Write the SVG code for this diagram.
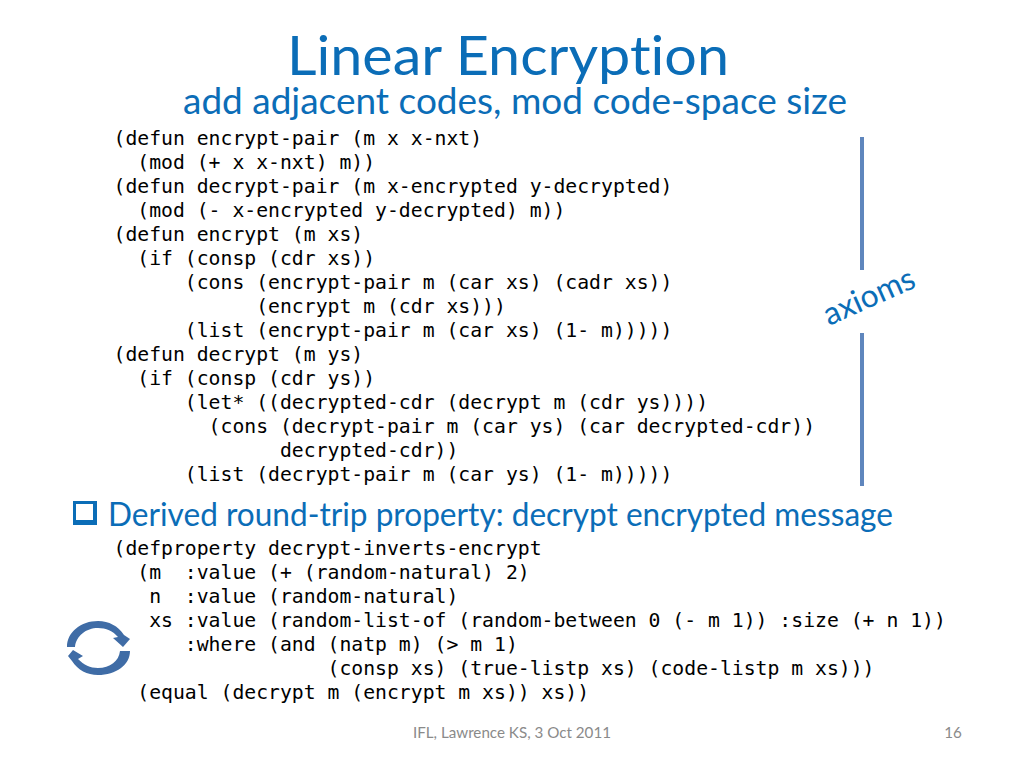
<svg xmlns="http://www.w3.org/2000/svg" width="1024" height="768" viewBox="0 0 1024 768">
<style>
text{font-family:"Lato","Noto Sans",sans-serif;fill:#0b6db7;font-variant-ligatures:none}
.c{font-family:"DejaVu Sans Mono","Liberation Mono",monospace;font-size:19.76px;fill:#000;white-space:pre}
.f{font-size:15.2px;fill:#8a8a8a}
.b{stroke:#5f86bd;stroke-width:4;fill:none}
</style>
<rect width="1024" height="768" fill="#fff"/>
<g id="title"><text x="508" y="75" font-size="54" text-anchor="middle" textLength="442" lengthAdjust="spacingAndGlyphs">Linear Encryption</text>
<text x="515" y="114" font-size="36" text-anchor="middle" textLength="664" lengthAdjust="spacingAndGlyphs">add adjacent codes, mod code-space size</text></g>
<g id="axiom-code">
<text class="c" x="113.500" y="145">(defun encrypt-pair (m x x-nxt)</text>
<text class="c" x="113.500" y="169">  (mod (+ x x-nxt) m))</text>
<text class="c" x="113.500" y="193">(defun decrypt-pair (m x-encrypted y-decrypted)</text>
<text class="c" x="113.500" y="217">  (mod (- x-encrypted y-decrypted) m))</text>
<text class="c" x="113.500" y="241">(defun encrypt (m xs)</text>
<text class="c" x="113.500" y="265">  (if (consp (cdr xs))</text>
<text class="c" x="113.500" y="289">      (cons (encrypt-pair m (car xs) (cadr xs))</text>
<text class="c" x="113.500" y="313">            (encrypt m (cdr xs)))</text>
<text class="c" x="113.500" y="337">      (list (encrypt-pair m (car xs) (1- m)))))</text>
<text class="c" x="113.500" y="361">(defun decrypt (m ys)</text>
<text class="c" x="113.500" y="385">  (if (consp (cdr ys))</text>
<text class="c" x="113.500" y="409">      (let* ((decrypted-cdr (decrypt m (cdr ys))))</text>
<text class="c" x="113.500" y="433">        (cons (decrypt-pair m (car ys) (car decrypted-cdr))</text>
<text class="c" x="113.500" y="457">              decrypted-cdr))</text>
<text class="c" x="113.500" y="481">      (list (decrypt-pair m (car ys) (1- m)))))</text>
</g>
<g id="axioms-bracket">
<line class="b" x1="862" y1="137" x2="862" y2="270"/>
<line class="b" x1="862" y1="333" x2="862" y2="486"/>
<text transform="translate(829 326) rotate(-24)" font-size="32" textLength="97" lengthAdjust="spacingAndGlyphs">axioms</text>
</g>
<g id="bullet">
<path d="M73 501H97V525H73Z M76 504V520H93V504Z" fill="#0b6db7" fill-rule="evenodd"/>
<text x="108" y="526" font-size="32" textLength="785" lengthAdjust="spacingAndGlyphs">Derived round-trip property: decrypt encrypted message</text>
</g>
<g id="property-code">
<text class="c" x="113.500" y="555">(defproperty decrypt-inverts-encrypt</text>
<text class="c" x="113.500" y="579">  (m  :value (+ (random-natural) 2)</text>
<text class="c" x="113.500" y="603">   n  :value (random-natural)</text>
<text class="c" x="113.500" y="627">   xs :value (random-list-of (random-between 0 (- m 1)) :size (+ n 1))</text>
<text class="c" x="113.500" y="651">      :where (and (natp m) (&gt; m 1)</text>
<text class="c" x="113.500" y="675">                  (consp xs) (true-listp xs) (code-listp m xs)))</text>
<text class="c" x="113.500" y="699">  (equal (decrypt m (encrypt m xs)) xs))</text>
</g>
<g id="cycle-icon" fill="#3f6ca6">
<path d="M67 647C67 632 81 621 98 621C109 621 118 626 124 635L130 639L123 647L113 638L118 637C113 631 106 628 98 628C86 628 76 636 75 647Z"/>
<path d="M130 651C130 665 116 675 98 675C87 675 78 670 72 661L68 656L73 650L83 656L78 659C84 665 90 668 98 668C110 668 119 661 120 651Z"/>
</g>
<g id="footer">
<text class="f" x="512" y="738" text-anchor="middle" textLength="198" lengthAdjust="spacingAndGlyphs">IFL, Lawrence KS, 3 Oct 2011</text>
<text class="f" x="953" y="738" text-anchor="middle">16</text>
</g>
</svg>
